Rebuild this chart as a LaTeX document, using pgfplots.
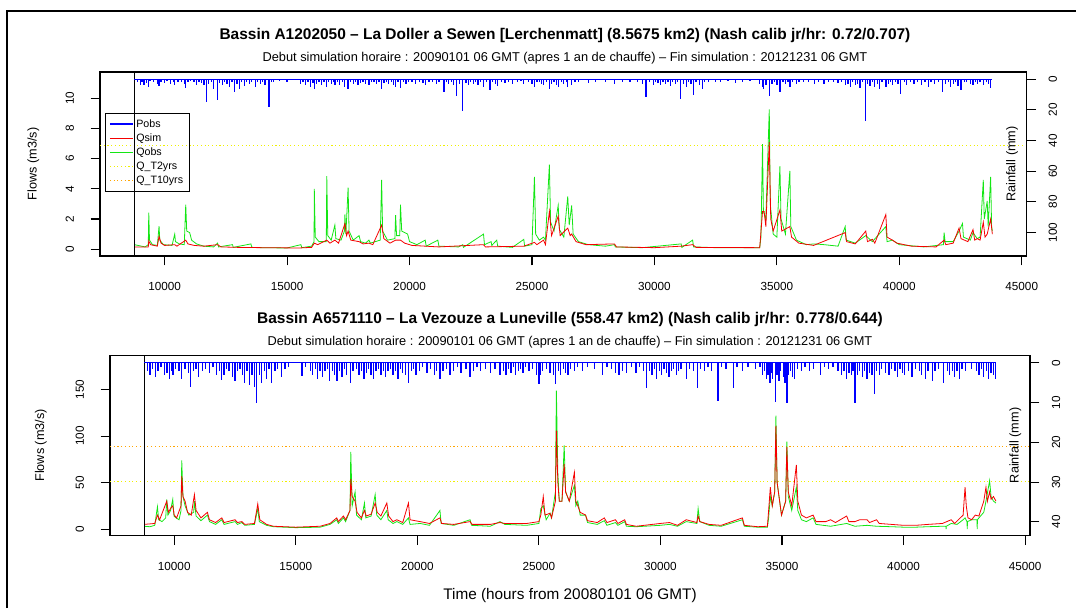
\documentclass[border=0pt]{standalone}
\usepackage{fontspec}
\setmainfont{Liberation Sans}
\usepackage{pgfplots}
\pgfplotsset{compat=1.18}
\definecolor{qobs}{RGB}{20,230,20}
\definecolor{qsim}{RGB}{245,0,0}
\definecolor{pobs}{RGB}{0,0,255}
\definecolor{qtwo}{RGB}{240,240,0}
\definecolor{qten}{RGB}{255,165,0}
\pgfplotsset{
  every axis/.append style={
    scale only axis, anchor=south west,
    axis line style={black, line width=0.8pt},
    every tick/.style={black, line width=0.8pt},
    tick align=outside, major tick length=7pt,
    /pgf/number format/assume math mode=true,
    /pgf/number format/1000 sep={},
    scaled x ticks=false, scaled y ticks=false,
    tick label style={font=\fontsize{8.8}{10}\selectfont},
    label style={font=\fontsize{9.5}{10}\selectfont},
    xticklabel style={yshift=-9.5pt},
    minor tick num=0,
    clip=true,
  },
}
\begin{document}
\begin{tikzpicture}
\useasboundingbox (0,0) rectangle (807pt,456pt);
% outer frame
\draw[black, line width=1.5pt] (5.25pt,0) -- (5.25pt,447.75pt) -- (807pt,447.75pt);
% titles
\node[font=\bfseries\fontsize{11.6}{13}\selectfont] at (423.75pt,429pt) {Bassin A1202050 -- La Doller a Sewen [Lerchenmatt] (8.5675 km2) (Nash calib jr/hr: 0.72/0.707)};
\node[font=\fontsize{9.6}{11}\selectfont] at (423.75pt,412.5pt) {Debut simulation horaire : 20090101 06 GMT (apres 1 an de chauffe) -- Fin simulation : 20121231 06 GMT};
\node[font=\bfseries\fontsize{11.6}{13}\selectfont] at (427.5pt,216pt) {Bassin A6571110 -- La Vezouze a Luneville (558.47 km2) (Nash calib jr/hr: 0.778/0.644)};
\node[font=\fontsize{9.6}{11}\selectfont] at (427.5pt,199.5pt) {Debut simulation horaire : 20090101 06 GMT (apres 1 an de chauffe) -- Fin simulation : 20121231 06 GMT};
\node[font=\fontsize{11.5}{12}\selectfont] at (427.5pt,9pt) {Time (hours from 20080101 06 GMT)};

%================ TOP: flows
\begin{axis}[at={(75pt,264pt)}, width=695pt, height=138pt,
  xmin=7358.4, xmax=45201.6, ymin=-0.452, ymax=11.752,
  xtick={10000,15000,...,45000}, ytick={0,2,...,10},
  xtick pos=bottom, ytick pos=left,
  yticklabel style={rotate=90, anchor=south, yshift=9pt},
  ylabel={Flows (m3/s)},
  ylabel style={at={(rel axis cs:0,0.5)}, anchor=south, yshift=42pt},
  legend style={at={(0.0054,0.777)}, anchor=north west, draw=black, line width=0.6pt, fill=none,
    font=\fontsize{8}{8.5}\selectfont, row sep=-0.6pt, inner sep=2.5pt, cells={anchor=west}},
  legend cell align=left,
]
\addlegendimage{pobs, line width=1.6pt}
\addlegendentry{Pobs}
\addlegendimage{qsim, line width=0.8pt}
\addlegendentry{Qsim}
\addlegendimage{qobs, line width=0.8pt}
\addlegendentry{Qobs}
\addlegendimage{qtwo, dotted, line width=0.8pt}
\addlegendentry{Q\_T2yrs}
\addlegendimage{qten, dotted, line width=0.8pt}
\addlegendentry{Q\_T10yrs}
\addplot[qtwo, dotted, line width=0.8pt, forget plot] coordinates {(7358.4,6.9) (45201.6,6.9)};
\addplot[qten, dotted, line width=0.8pt, forget plot] coordinates {(7358.4,13.5) (45201.6,13.5)};
\addplot[qobs, line width=0.6pt, forget plot] coordinates {
(8760,0.3) (9200,0.15) (9330,0.3) (9350,2.43) (9380,0.6) (9500,0.3) (9700,0.25) (9770,1.53) (9800,0.6) (9950,0.3) (10300,0.25) (10410,1.0) (10440,0.5) (10600,0.35) (10800,0.3) (10860,2.96) (10900,1.2) (11020,1.1) (11100,0.6) (11300,0.35) (11600,0.2) (12000,0.15) (12160,0.4) (12200,0.15) (12770,0.3) (12800,0.12) (13520,0.35) (13560,0.12) (14000,0.1) (15000,0.08) (15560,0.3) (15600,0.1) (16000,0.2) (16100,0.5) (16110,4.0) (16150,0.8) (16300,0.5) (16600,0.5) (16620,4.85) (16660,0.9) (16800,0.6) (16950,1.6) (16990,0.7) (17200,0.6) (17340,1.2) (17360,2.3) (17400,1.0) (17490,4.08) (17530,1.2) (17700,0.6) (17940,0.9) (18000,0.5) (18200,0.4) (18340,0.6) (18400,0.4) (18800,0.6) (18860,4.6) (18900,1.2) (19100,0.6) (19400,0.7) (19430,2.26) (19470,0.9) (19600,0.9) (19630,2.96) (19680,1.2) (19920,1.0) (20000,0.5) (20300,0.3) (20640,0.6) (20680,0.2) (21155,0.6) (21200,0.2) (22000,0.15) (22175,0.3) (22200,0.12) (23020,1.0) (23060,0.3) (23330,0.5) (23360,0.25) (23560,0.6) (23600,0.2) (24200,0.12) (24665,0.65) (24700,0.2) (25000,0.3) (25100,4.8) (25150,1.0) (25300,0.6) (25470,0.8) (25550,0.6) (25710,5.6) (25760,1.8) (25900,1.2) (26070,2.9) (26120,1.3) (26300,0.8) (26460,3.5) (26520,1.6) (26620,2.9) (26680,1.0) (26900,0.5) (27300,0.3) (28000,0.2) (28370,0.3) (28400,0.15) (29500,0.1) (31090,0.35) (31120,0.12) (31560,0.6) (31600,0.15) (32500,0.1) (34300,0.1) (34350,0.8) (34415,6.97) (34450,2.5) (34550,2.0) (34690,9.28) (34730,3.0) (34850,1.0) (35000,0.8) (35125,5.5) (35170,2.0) (35350,1.0) (35530,5.2) (35570,1.5) (35800,0.6) (36200,0.3) (36525,0.35) (36930,0.3) (37500,0.2) (37790,1.5) (37830,0.6) (38200,0.4) (38630,0.9) (38900,0.5) (39450,1.5) (39500,0.5) (39720,0.6) (40000,0.3) (41000,0.15) (41800,0.3) (41830,1.1) (41870,0.5) (42200,0.5) (42440,1.2) (42580,1.7) (42620,0.8) (42900,0.6) (43010,1.1) (43180,0.7) (43300,0.8) (43430,4.6) (43470,2.0) (43590,3.2) (43630,1.5) (43730,4.8) (43770,1.5) (43800,1.2)
};
\addplot[qsim, line width=0.6pt, forget plot] coordinates {
(8760,0.15) (9330,0.15) (9350,0.55) (9420,0.3) (9700,0.2) (9770,0.85) (9850,0.4) (10000,0.25) (10410,0.3) (10500,0.2) (10860,0.6) (10950,0.35) (11200,0.25) (11600,0.2) (12160,0.3) (12300,0.15) (13000,0.12) (14000,0.1) (15500,0.08) (16000,0.12) (16110,0.4) (16250,0.3) (16620,0.6) (16750,0.4) (16950,0.6) (17100,0.4) (17360,1.7) (17430,0.9) (17490,1.2) (17600,0.6) (17940,0.5) (18100,0.35) (18340,0.4) (18500,0.3) (18860,1.6) (18950,0.7) (19200,0.4) (19430,0.6) (19630,0.6) (19800,0.4) (20100,0.25) (20640,0.2) (21200,0.15) (23020,0.3) (23100,0.15) (24665,0.2) (25100,0.45) (25200,0.3) (25470,0.6) (25550,0.3) (25710,2.5) (25800,0.9) (26070,2.2) (26150,0.9) (26460,1.4) (26560,0.9) (26620,1.0) (26800,0.5) (27200,0.3) (28370,0.35) (28450,0.15) (30000,0.1) (31090,0.2) (31560,0.3) (31700,0.12) (34300,0.1) (34415,2.5) (34480,2.5) (34550,1.5) (34690,7.1) (34750,2.0) (34850,1.2) (35125,2.6) (35200,1.2) (35530,1.5) (35600,0.8) (35900,0.4) (36500,0.25) (37790,1.1) (37850,0.5) (38200,0.35) (38630,1.2) (38700,0.5) (38900,0.65) (39000,0.4) (39450,2.3) (39500,0.8) (39720,0.6) (39900,0.4) (40500,0.2) (41500,0.15) (41830,0.6) (41900,0.3) (42200,0.4) (42440,1.4) (42520,0.7) (42800,0.5) (43010,1.3) (43080,0.6) (43180,0.7) (43300,0.6) (43430,1.8) (43500,0.8) (43590,1.0) (43730,2.0) (43800,1.0)
};
\addplot[black, line width=0.8pt, forget plot] coordinates {(8760,-5) (8760,20)};
\end{axis}

%================ TOP: rainfall
\begin{axis}[at={(75pt,264pt)}, width=695pt, height=138pt,
  xmin=7358.4, xmax=45201.6, ymin=-4.8, ymax=115.5, y dir=reverse,
  axis y line*=right, axis x line=none,
  ytick={0,20,...,100},
  yticklabel style={rotate=90, anchor=north, yshift=-6pt},
  ylabel={Rainfall (mm)},
  ylabel style={at={(rel axis cs:1,0.5)}, anchor=south, yshift=3pt},
]
\addplot[pobs, line width=0.8pt] coordinates {(8760,0) (43800,0)};
\addplot[pobs, ycomb, line width=1pt] coordinates {
(8900,2) (9000,3.5) (9080,1.5) (9150,4) (9250,2.5) (9330,5) (9400,1) (9550,2) (9700,3) (9770,4.5) (9850,1.5) (10000,2.5) (10100,1) (10250,3) (10350,2) (10410,4) (10550,1.5) (10700,2) (10800,3) (10860,5.5) (10950,2) (11050,1)
(11200,2) (11300,3.5) (11400,1.5) (11500,2.5) (11600,4) (11705,15) (11800,3) (11900,2) (12000,6) (12150,13.7) (12250,2.5) (12350,4) (12450,1.5) (12550,3) (12650,5) (12750,2) (12850,8.6) (12950,3) (13050,6) (13150,2) (13250,4.5) (13350,1.5) (13450,3) (13550,2) (13700,5) (13800,1.5) (13900,3) (14000,2) (14100,4) (14260,18.3) (14350,2) (14450,1.5)
(14700,1) (15000,1.5)
(15550,3) (15650,2) (15750,4) (15850,1.5) (15950,5) (16050,2.5) (16110,6) (16200,3) (16300,1.5) (16400,4) (16500,2) (16620,5) (16700,2) (16800,3) (16900,1.5) (16950,4) (17050,2) (17150,3.5) (17250,1.5) (17350,5) (17490,6) (17600,2) (17700,3) (17800,1.5) (17900,4) (18000,2.5) (18100,1.5) (18200,3) (18340,4) (18450,2) (18550,1.5) (18650,3) (18750,2) (18860,6) (18950,2.5) (19050,1.5) (19150,3) (19250,2) (19350,4) (19430,5) (19530,2) (19630,5.5) (19750,2) (19850,3) (19950,1.5)
(20100,2) (20250,3) (20400,1.5) (20550,2.5) (20640,4) (20800,1.5) (20950,2) (21100,3) (21200,1.5) (21400,8.5) (21500,2) (21600,3) (21700,1.5) (21800,4) (21910,11) (22050,3) (22175,20.5) (22300,2.5) (22400,4) (22500,1.5) (22600,3) (22700,2) (22800,4) (22900,1.5) (23020,5) (23150,2) (23280,7) (23400,2) (23500,3) (23600,4.5) (23750,1.5) (23900,2.5) (24050,1.5) (24200,3) (24400,2) (24550,1) (24665,3)
(24850,2) (25000,3) (25100,5) (25200,2) (25300,1.5) (25400,3) (25470,4) (25600,2) (25710,6) (25800,3) (25900,1.5) (26000,4) (26070,5) (26200,2) (26300,3) (26400,1.5) (26460,5) (26620,4) (26750,2) (26900,1.5)
(27300,2.5) (27600,1.5) (28000,2) (28370,3) (28700,1.5) (29000,2)
(29300,1.5) (29500,3) (29660,11.5) (29800,2) (29950,3.5) (30050,1.5) (30150,2.5) (30250,4) (30350,1.5) (30450,3) (30550,2) (30650,4.5) (30750,1.5) (30850,3) (30950,2) (31070,13) (31200,3) (31300,5) (31400,2) (31500,3) (31600,10) (31700,2) (31850,3.5) (31950,6) (32050,1.5) (32200,2)
(32500,1.5) (32700,2) (33000,1) (33300,2.5) (33600,1.5) (33900,1)
(34300,3) (34400,5) (34450,6) (34550,4) (34690,11) (34800,3) (34900,2) (35000,4) (35125,8) (35250,2) (35350,3) (35450,1.5) (35530,5) (35650,2) (35800,3) (35900,1.5)
(36100,2) (36300,1.5) (36525,3) (36700,1.5) (36930,3) (37100,2) (37300,1.5) (37500,2.5) (37650,1.5) (37790,4)
(37900,3) (38000,5) (38100,2) (38200,4) (38300,3) (38400,5.5) (38500,2) (38630,27.5) (38700,3) (38800,4.5) (38900,2) (39000,5) (39100,3) (39200,6) (39300,2) (39450,5) (39550,3) (39650,2) (39720,4) (39850,1.5) (39950,3) (40060,9.6) (40200,2) (40300,4) (40450,1.5)
(40600,3) (40750,1.5) (40900,4) (41050,2) (41200,5) (41300,2) (41450,3) (41600,1.5) (41770,8.5) (41900,3) (42000,2) (42100,5) (42200,3) (42300,2) (42400,4.5) (42520,7) (42650,2) (42750,1.5) (42900,3) (43010,4) (43100,2) (43200,3) (43300,1.5) (43430,4) (43550,2) (43650,3) (43730,5.5)
};
\end{axis}

%================ BOTTOM: flows
\begin{axis}[at={(82.5pt,54.2pt)}, width=690pt, height=135.5pt,
  xmin=7358.4, xmax=45201.6, ymin=-7.2, ymax=187.2,
  xtick={10000,15000,...,45000}, ytick={0,50,100,150},
  xtick pos=bottom, ytick pos=left,
  yticklabel style={rotate=90, anchor=south, yshift=9pt},
  ylabel={Flows (m3/s)},
  ylabel style={at={(rel axis cs:0,0.5)}, anchor=south, yshift=44pt},
]
\addplot[qten, dotted, line width=0.8pt] coordinates {(7358.4,89) (45201.6,89)};
\addplot[qtwo, dotted, line width=0.8pt] coordinates {(7358.4,51.4) (45201.6,51.4)};
\addplot[qobs, line width=0.6pt] coordinates {
(8760,3) (9000,2.5) (9200,4) (9310,24) (9360,10) (9500,8) (9650,12) (9693,32) (9740,15) (9850,20) (9940,32) (9990,14) (10076,12) (10200,10) (10280,20) (10310,74) (10360,35) (10447,25) (10600,15) (10800,18) (10830,30) (10900,14) (11100,9) (11365,15) (11450,8) (11700,5) (11957,10) (12050,5) (12504,8) (12600,5) (12780,7) (12900,4) (13300,5) (13437,22) (13500,8) (13800,4) (14080,2.5) (15000,1.5) (16000,2) (16410,5) (16685,10) (16750,6) (16960,12) (17050,8) (17230,20) (17263,83) (17320,25) (17440,40) (17500,15) (17700,10) (17825,28) (17880,12) (18100,14) (18265,37) (18330,15) (18500,10) (18745,20) (18800,10) (19000,6) (19157,8) (19400,5) (19635,12) (19700,5) (20115,6) (20500,4) (20930,20) (20980,6) (21500,4) (22170,10) (22230,4) (23000,3) (23400,8) (23600,5) (24500,4) (25000,6) (25080,22) (25180,25) (25300,10) (25460,17) (25520,12) (25680,40) (25720,149) (25780,60) (25840,30) (25950,30) (26040,90) (26100,40) (26250,30) (26460,47) (26520,25) (26600,30) (26700,15) (26920,15) (27000,7) (27400,5) (27690,9) (27800,4) (28150,7) (28250,4) (28530,8) (28600,3) (29000,2.5) (29990,4) (30370,5) (30700,3) (31060,8) (31500,6) (31550,22) (31620,8) (32000,4) (32500,3) (33370,10) (33450,3) (34000,2) (34400,2) (34450,12) (34520,35) (34600,25) (34700,40) (34750,122) (34800,50) (34980,15) (35150,30) (35200,94) (35260,35) (35400,20) (35590,45) (35650,20) (35800,10) (36000,8) (36280,12) (36400,5) (37000,3) (37660,6) (38000,3) (38500,4) (38890,3) (39500,2.5) (40000,2) (40500,2) (41000,2.5) (41600,3) (41740,3) (41750,0) (41760,3) (41960,6) (42200,5) (42450,10) (42530,12) (42610,8) (42620,0) (42630,8) (42800,10) (43020,10) (43030,0) (43040,10) (43100,12) (43300,18) (43390,30) (43540,52) (43600,35) (43700,30) (43800,28)
};
\addplot[qsim, line width=0.6pt] coordinates {
(8760,5) (9200,6) (9310,15) (9400,10) (9693,30) (9760,18) (9870,23) (9940,25) (10000,15) (10100,12) (10280,25) (10310,57) (10360,35) (10447,30) (10550,18) (10700,15) (10830,37) (10900,20) (11100,12) (11365,18) (11450,10) (11700,7) (11957,12) (12050,7) (12504,10) (12600,7) (12780,8) (12900,5) (13300,6) (13437,27) (13520,10) (13800,5) (14080,3) (15000,2) (16000,3) (16410,6) (16685,12) (16750,8) (16960,14) (17050,10) (17230,20) (17263,54) (17320,35) (17440,30) (17520,18) (17700,12) (17825,20) (17900,14) (18100,16) (18265,28) (18350,18) (18500,14) (18745,28) (18820,14) (19000,8) (19157,10) (19400,7) (19635,28) (19700,10) (20115,8) (20500,6) (20930,12) (21000,6) (21500,5) (22170,8) (22250,5) (23000,5) (23400,7) (23600,6) (24500,6) (25000,8) (25080,15) (25180,35) (25250,15) (25460,17) (25520,12) (25680,30) (25720,106) (25780,50) (25840,30) (25950,30) (26040,70) (26100,40) (26250,30) (26460,61) (26520,30) (26600,25) (26700,18) (26920,15) (27000,9) (27400,7) (27690,12) (27800,7) (28150,10) (28250,6) (28530,10) (28600,5) (29000,3) (29990,6) (30370,7) (30700,4) (31060,10) (31500,7) (31550,14) (31620,8) (32000,5) (32500,4) (33370,12) (33450,4) (34000,2.5) (34400,3) (34450,20) (34520,45) (34600,25) (34700,40) (34750,111) (34800,50) (34980,15) (35150,30) (35200,88) (35260,40) (35400,25) (35590,69) (35650,30) (35800,15) (36000,12) (36280,15) (36400,8) (36800,8) (37000,10) (37200,7) (37660,14) (37750,8) (38000,8) (38200,10) (38500,10) (38600,7) (38890,10) (39000,6) (39500,5) (40000,4) (40500,4) (41000,5) (41600,6) (41960,10) (42100,6) (42450,15) (42530,45) (42580,25) (42650,12) (42800,10) (42950,15) (43100,14) (43300,30) (43390,45) (43450,30) (43540,40) (43600,32) (43700,35) (43800,30)
};
\addplot[black, line width=0.8pt] coordinates {(8760,-10) (8760,200)};
\end{axis}

%================ BOTTOM: rainfall
\begin{axis}[at={(82.5pt,54.2pt)}, width=690pt, height=135.5pt,
  xmin=7358.4, xmax=45201.6, ymin=-1.95, ymax=43.5, y dir=reverse,
  axis y line*=right, axis x line=none,
  ytick={0,10,...,40},
  yticklabel style={rotate=90, anchor=north, yshift=-6pt},
  ylabel={Rainfall (mm)},
  ylabel style={at={(rel axis cs:1,0.5)}, anchor=south, yshift=3pt},
]
\addplot[pobs, line width=0.8pt] coordinates {(8760,0) (43800,0)};
\addplot[pobs, ycomb, line width=1pt] coordinates {
(8900,2) (9000,3) (9100,1.5) (9240,3.5) (9330,2) (9450,1) (9600,3) (9700,2.5) (9800,4) (9880,2) (9950,3) (10050,1.5) (10200,2) (10310,4) (10450,1.5) (10580,2.5) (10680,6.2) (10800,2) (10900,1.5) (11000,3.5) (11150,2) (11300,1.5) (11450,2.5) (11600,1) (11750,3) (11850,2) (11940,4.4) (12050,3) (12150,1.5) (12250,2) (12400,3.5) (12500,4.5) (12600,2) (12700,1.5) (12800,3) (12900,5) (13000,2) (13100,5.5) (13200,3) (13300,6) (13385,10.2) (13500,3) (13600,5) (13700,2) (13800,4) (13900,1.5) (14010,5) (14150,2) (14250,1.5) (14400,3.5) (14550,1.5) (14690,1)
(15250,3.3) (15400,1) (15600,2) (15700,3) (15800,1.5) (15900,4) (16000,2) (16100,3.5) (16200,2) (16300,1.5) (16400,4.6) (16500,2) (16600,3) (16700,4.6) (16800,2) (16900,3.5) (17000,1.5) (17100,3) (17250,5) (17350,2) (17500,1.5) (17600,3) (17700,2) (17800,4) (17900,2.5) (18000,1.5) (18100,3) (18200,4) (18300,2) (18400,1.5) (18500,3) (18600,2) (18700,3.5) (18800,2) (18900,1.5) (19000,3) (19100,2) (19200,4) (19300,1.5) (19400,2.5) (19500,3) (19635,5) (19750,2) (19850,1.5) (19950,3)
(20100,2) (20200,1) (20400,2.5) (20550,1.5) (20700,3) (20800,2) (20930,4) (21050,2) (21200,1.5) (21350,3) (21500,2) (21650,1) (21800,2.5) (22000,1.5) (22170,3.5) (22300,2) (22450,1) (22600,2) (22800,1.5) (23000,2.5) (23200,1.5) (23400,3) (23540,2) (23650,3) (23750,1.5) (23850,2.5) (23950,1) (24050,3) (24150,2) (24250,1.5) (24350,2.5) (24460,1) (24600,2) (24750,1.5) (24900,3)
(25000,5.4) (25080,3) (25150,2) (25300,1.5) (25460,2.5) (25600,3) (25690,5.4) (25800,2) (25900,3) (26000,1.5) (26100,2.5) (26200,3) (26300,1.5) (26460,2) (26600,1) (26800,2) (27000,1) (27300,1.5) (27610,3) (27800,1) (28000,1.5) (28150,2.5) (28300,3) (28450,2) (28600,2.5) (28800,1) (28990,2.5) (29150,1) (29300,2) (29420,6.4) (29550,2) (29650,3) (29750,1.5) (29850,4) (29950,2) (30050,3) (30150,1.5) (30250,2.5) (30350,3.5) (30450,2) (30550,1.5) (30650,3) (30750,2) (30850,1.5) (31060,4) (31200,1.5) (31350,2) (31520,6.4) (31650,1.5) (31800,2) (31950,1) (32100,2) (32370,9.6) (32500,1) (32700,1.5) (33000,6.4) (33150,1) (33370,2) (33600,1) (33900,1.5) (34100,1)
(34200,3) (34280,2) (34350,4) (34420,3) (34500,5) (34560,2.5) (34620,4) (34720,9.8) (34800,3) (34870,4.5) (34950,2) (35050,3.5) (35120,5) (35200,10.1) (35280,3) (35350,2) (35430,3.5) (35520,4) (35650,1.5) (35800,2) (35950,1) (36130,2) (36300,1.5) (36590,3) (36750,1) (36900,1.5) (37100,1) (37300,2) (37450,3) (37550,2) (37650,4) (37750,2.5) (37850,3) (37920,2) (38000,10.1) (38100,3) (38200,2) (38300,3.5) (38400,2) (38500,4) (38600,2.5) (38700,3) (38810,7.8) (38900,2) (39000,3) (39100,1.5) (39250,2.5) (39400,3) (39500,1.5) (39650,2) (39750,3.5) (39850,1.5) (39950,2.5) (40050,3) (40200,2) (40350,3.5) (40500,1.5) (40650,2) (40750,3) (40890,4) (41000,2) (41190,4.5) (41300,2) (41450,1.5) (41650,5) (41800,2) (41900,3) (42000,2) (42100,3.5) (42200,2) (42300,4) (42400,1.5) (42550,2) (42800,1.5) (43000,2) (43100,3) (43200,1.5) (43300,3.5) (43400,2) (43500,4) (43600,2.5) (43700,3) (43780,4)
};
\end{axis}
\end{tikzpicture}
\end{document}
